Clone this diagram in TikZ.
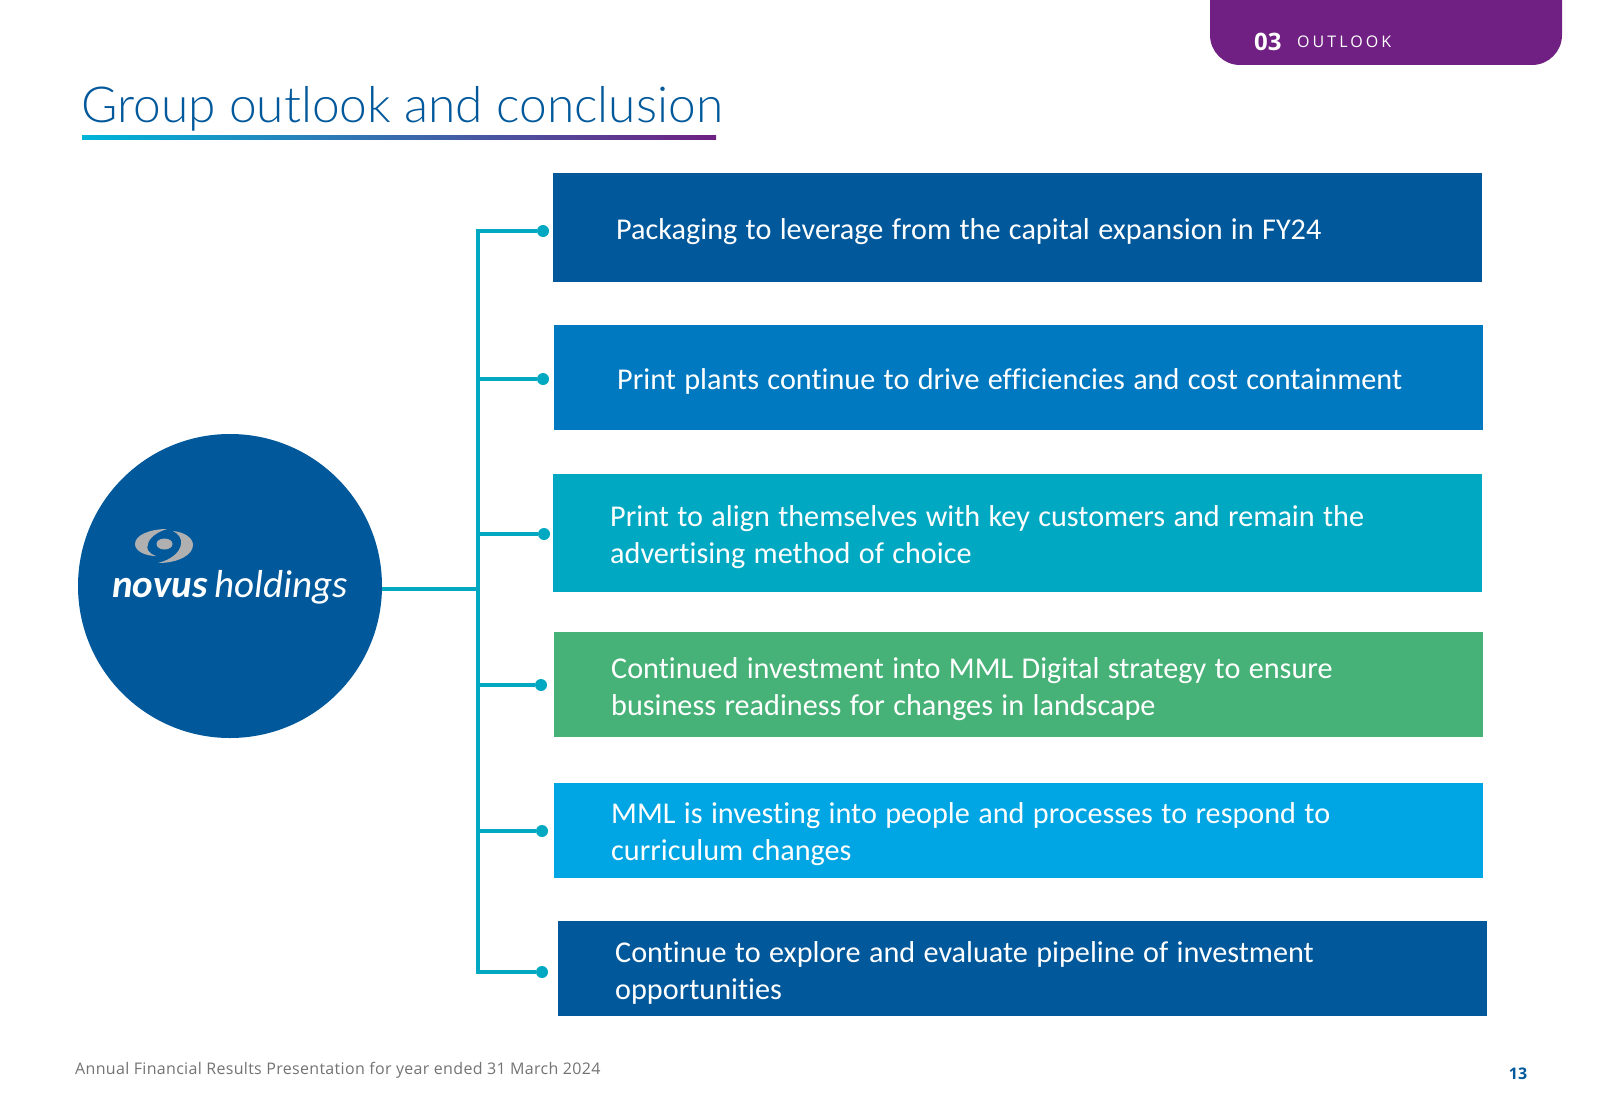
\documentclass[tikz,border=0pt]{standalone}
\usepackage{fontspec}
\usepackage{tikz}
\usetikzlibrary{shapes,arrows}
\setmainfont{Carlito}[Ligatures=NoCommon]
\newfontfamily\brandfont{Carlito}
\newfontfamily\titlefont{Lato Light}
\newfontfamily\opensans{Open Sans}
\newfontfamily\tabfont[LetterSpace=19]{Open Sans}
\newfontfamily\footfont[LetterSpace=2]{Open Sans}
\definecolor{novusblue}{HTML}{01589B}
\definecolor{printblue}{HTML}{0079C1}
\definecolor{tealbox}{HTML}{00A8C1}
\definecolor{greenbox}{HTML}{47B277}
\definecolor{skybox}{HTML}{00A5E3}
\definecolor{tabpurple}{HTML}{702082}
\definecolor{rulecyan}{HTML}{00B5D8}
\definecolor{swirlgrey}{HTML}{B0B0B0}
\tikzstyle{point} = [rectangle, anchor=north west, text=white, inner ysep=0pt, inner xsep=57pt,
    text width=815pt, minimum width=929pt, align=left, font=\fontsize{30.2}{37}\selectfont,
    execute at begin node={\spaceskip=8.4pt\relax\rule{0pt}{29pt}}]
\tikzstyle{wide} = [inner xsep=63pt, text width=803pt]
\tikzstyle{link} = [draw=tealbox, line width=3.5pt]
\tikzstyle{dotnode} = [circle, fill=tealbox, inner sep=0pt, minimum size=12pt]

\begin{document}
\begin{tikzpicture}[x=1pt, y=-1pt]
    \useasboundingbox (0,0) rectangle (1600,1108);

    % Header
    \fill[tabpurple] (1210,0) [rounded corners=30pt] -- (1210,65) -- (1562,65) [sharp corners] -- (1562,0) -- cycle;
    \node [anchor=base west, text=white, inner sep=0pt, font=\opensans\bfseries\fontsize{24}{24}\selectfont] (tabnum) at (1254,50.5) {03};
    \node [anchor=base west, text=white, inner sep=0pt, font=\tabfont\fontsize{16}{16}\selectfont] (tabname) at (1297,48) {OUTLOOK};
    \node [anchor=base west, text=novusblue, inner sep=0pt, font=\titlefont\fontsize{49.6}{50}\selectfont] (title) at (81,122) {Group outlook and conclusion};
    \shade [left color=rulecyan, middle color=rulecyan, right color=tabpurple] (82,135) rectangle (716,139);

    % Place nodes
    % Boxes
    \node [point, wide, fill=novusblue, minimum height=109pt] (pack) at (553,173) {Packaging to leverage from the capital expansion in FY24};
    \node [point, wide, fill=printblue, minimum height=105pt] (plants) at (554,325) {Print plants continue to drive efficiencies and cost containment};
    \node [point, fill=tealbox, minimum height=118.5pt] (align) at (553,473.5) {Print to align themselves with key customers and remain the\\advertising method of choice};
    \node [point, fill=greenbox, minimum height=105pt] (digital) at (554,632) {Continued investment into MML Digital strategy to ensure\\business readiness for changes in landscape};
    \node [point, fill=skybox, minimum height=95.5pt] (people) at (554,782.5) {MML is investing into people and processes to respond to\\curriculum changes};
    \node [point, fill=novusblue, minimum height=95.5pt] (pipeline) at (558,920.5) {Continue to explore and evaluate pipeline of investment\\opportunities};

    % Logo
    \node [circle, fill=novusblue, inner sep=0pt, minimum size=304pt] (logo) at (230,586) {};
    \fill[swirlgrey] (167,529) .. controls (150,529) and (135,535) .. (135,544) .. controls (135,551) and (145,556) .. (156,556) .. controls (148,553) and (146,549) .. (148,544) .. controls (149,538) and (157,532) .. (167,529) -- cycle;
    \fill[swirlgrey] (158,563) .. controls (178,563) and (193,555) .. (193,545) .. controls (193,537) and (183,532) .. (173,531) .. controls (179,534) and (182,539) .. (181,544) .. controls (180,553) and (170,560) .. (158,563) -- cycle;
    \fill[swirlgrey] (164.5,544) ellipse [x radius=8pt, y radius=5.5pt];
    \node [anchor=base, text=white, inner sep=0pt, font=\brandfont\fontsize{39}{39}\selectfont] (brand) at (230,597) {\textbf{\textit{novus}}\,\textit{holdings}};

    % Dots
    \node [dotnode] (packdot) at (543,231) {};
    \node [dotnode] (plantsdot) at (543,379) {};
    \node [dotnode] (aligndot) at (544,534) {};
    \node [dotnode] (digitaldot) at (541,685) {};
    \node [dotnode] (peopledot) at (542,831) {};
    \node [dotnode] (pipelinedot) at (542,972) {};

    % Trunk
    \coordinate (packtrunk) at (478,231);
    \coordinate (plantstrunk) at (478,379);
    \coordinate (aligntrunk) at (478,534);
    \coordinate (hub) at (478,589);
    \coordinate (digitaltrunk) at (478,685);
    \coordinate (peopletrunk) at (478,831);
    \coordinate (pipelinetrunk) at (478,972);

    % Draw edges
    \path [link] (logo.east |- hub) -- (hub);
    \path [link, line cap=rect] (packtrunk) -- (pipelinetrunk);
    \path [link] (packtrunk) -- (packdot);
    \path [link] (plantstrunk) -- (plantsdot);
    \path [link] (aligntrunk) -- (aligndot);
    \path [link] (digitaltrunk) -- (digitaldot);
    \path [link] (peopletrunk) -- (peopledot);
    \path [link] (pipelinetrunk) -- (pipelinedot);

    % Footer
    \node [anchor=base west, text=black!55, inner sep=0pt, font=\footfont\fontsize{16}{16}\selectfont] (foot) at (75,1074) {Annual Financial Results Presentation for year ended 31 March 2024};
    \node [anchor=base, text=novusblue, inner sep=0pt, font=\opensans\bfseries\fontsize{16}{16}\selectfont] (pagenum) at (1518,1079) {13};
\end{tikzpicture}
\end{document}
